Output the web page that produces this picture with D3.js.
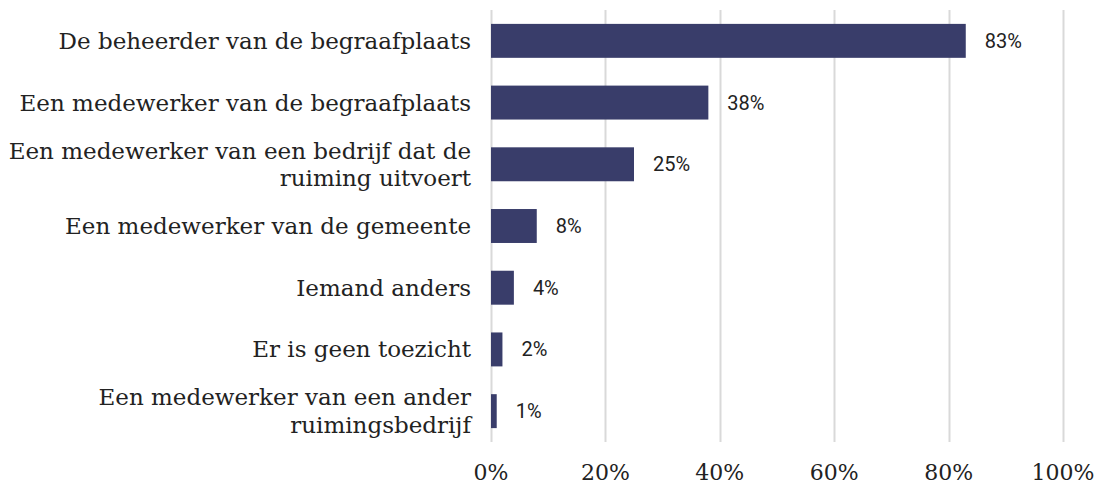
<!DOCTYPE html>
<html>
<head>
<meta charset="utf-8">
<script src="https://cdn.jsdelivr.net/npm/d3@7"></script>
<style>
  body { margin: 0; background: #fff; }
</style>
</head>
<body>
<div id="chart"></div>
<script>
// data
const categories = [
  ["De beheerder van de begraafplaats"],
  ["Een medewerker van de begraafplaats"],
  ["Een medewerker van een bedrijf dat de", "ruiming uitvoert"],
  ["Een medewerker van de gemeente"],
  ["Iemand anders"],
  ["Er is geen toezicht"],
  ["Een medewerker van een ander", "ruimingsbedrijf"]
];
const values = [83, 38, 25, 8, 4, 2, 1];
const tickValues = [0, 20, 40, 60, 80, 100];

const W = 1099, H = 484;
const margin = { top: 10, left: 491, right: 36, bottom: 42 };

const svg = d3.select('#chart')
  .append('svg')
    .attr('width', W)
    .attr('height', H);

const x = d3.scaleLinear()
  .domain([0, 100])
  .range([margin.left, W - margin.right]);

const y = d3.scaleBand()
  .domain(d3.range(categories.length))
  .range([margin.top, H - margin.bottom])
  .paddingInner(0.45)
  .paddingOuter(0.225);

// gridlines
svg.append('g')
  .selectAll('line')
  .data(tickValues)
  .join('line')
    .attr('x1', d => Math.round(x(d)) + 0.5)
    .attr('x2', d => Math.round(x(d)) + 0.5)
    .attr('y1', margin.top)
    .attr('y2', H - margin.bottom)
    .attr('stroke', '#d9d9d9')
    .attr('stroke-width', 2);

// x axis labels
svg.append('g')
  .selectAll('text')
  .data(tickValues)
  .join('text')
    .attr('x', d => x(d))
    .attr('y', 480)
    .attr('text-anchor', 'middle')
    .attr('font-family', '"DejaVu Serif", serif')
    .attr('font-size', 22)
    .attr('fill', '#222')
    .text(d => d + '%');

// bars
svg.append('g')
  .selectAll('rect')
  .data(values)
  .join('rect')
    .attr('x', x(0))
    .attr('y', (d, i) => y(i))
    .attr('width', d => x(d) - x(0))
    .attr('height', y.bandwidth())
    .attr('fill', '#393d6a');

// value labels
svg.append('g')
  .selectAll('text')
  .data(values)
  .join('text')
    .attr('x', d => x(d) + 19)
    .attr('y', (d, i) => y(i) + y.bandwidth() / 2)
    .attr('dy', '0.35em')
    .attr('font-family', 'Roboto, sans-serif')
    .attr('font-size', 20)
    .attr('fill', '#222')
    .text(d => d + '%');

// category labels
const lineH = 27.5;
const cat = svg.append('g')
  .selectAll('text')
  .data(categories)
  .join('text')
    .attr('x', 471)
    .attr('y', (d, i) => y(i) + y.bandwidth() / 2 - (d.length - 1) * lineH / 2)
    .attr('text-anchor', 'end')
    .attr('font-family', '"DejaVu Serif", serif')
    .attr('font-size', 23)
    .attr('fill', '#222');

cat.selectAll('tspan')
  .data(d => d)
  .join('tspan')
    .attr('x', 471)
    .attr('dy', (d, i) => i === 0 ? '0.35em' : lineH)
    .text(d => d);
</script>
</body>
</html>
